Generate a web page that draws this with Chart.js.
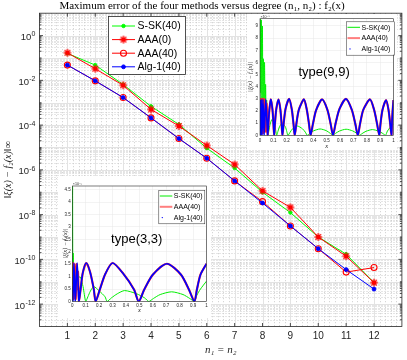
<!DOCTYPE html>
<html>
<head>
<meta charset="utf-8">
<script src="https://cdn.jsdelivr.net/npm/chart.js@4/dist/chart.umd.min.js"></script>
<style>
  html, body { margin: 0; padding: 0; background: #fff; }
  #wrap { position: relative; width: 407px; height: 360px; }
  canvas { position: absolute; display: block; }
  #main { left: 0; top: 0; width: 407px; height: 360px; }
  #inset99 { left: 247px; top: 14px; width: 150px; height: 136px; background: #fff; }
  #inset33 { left: 58px; top: 176px; width: 153px; height: 142px; background: #fff; }
</style>
</head>
<body>
<div id="wrap">
  <canvas id="main" width="407" height="360"></canvas>
  <canvas id="inset99" width="150" height="136"></canvas>
  <canvas id="inset33" width="153" height="142"></canvas>
</div>
<script>
// main plot: max error vs degree
const degrees = [1, 2, 3, 4, 5, 6, 7, 8, 9, 10, 11, 12];
const sskErr = [0.16, 0.048, 6.5e-3, 6.9e-4, 1.07e-4, 9.3e-6, 1.2e-6, 1.0e-7, 1.23e-8, 1.0e-9, 1.7e-10, 9.1e-12];
const aaa0Err = [0.17, 0.033, 6.0e-3, 5.0e-4, 9.1e-5, 1.23e-5, 1.74e-6, 1.15e-7, 2.1e-8, 1.0e-9, 1.38e-10, 9.1e-12];
const aaa40Err = [0.048, 9.5e-3, 1.7e-3, 2.1e-4, 2.5e-5, 3.3e-6, 3.2e-7, 3.8e-8, 3.1e-9, 3.0e-10, 2.7e-11, 4.3e-11];
const alg1Err = [0.048, 9.5e-3, 1.7e-3, 2.1e-4, 2.5e-5, 3.3e-6, 3.2e-7, 3.3e-8, 3.1e-9, 3.0e-10, 3.5e-11, 4.7e-12];
const yTicks = [1, 1e-2, 1e-4, 1e-6, 1e-8, 1e-10, 1e-12];

// inset x ticks
const insetXTicks = [0, 0.1, 0.2, 0.3, 0.4, 0.5, 0.6, 0.7, 0.8, 0.9, 1];

// inset type(9,9), values x 1e-9
const t99YTicks = [0, 1, 2, 3, 4, 5, 6, 7, 8, 9];
const t99BlueNearX = [0, 0.004, 0.009, 0.015, 0.022, 0.031, 0.043, 0.058];
const t99BlueNearY = [2.9, 0, 2.95, 0, 2.95, 0, 2.95, 0];
const t99RedNearX = [0, 0.003, 0.006, 0.01, 0.013, 0.017, 0.02, 0.025, 0.028, 0.033, 0.038, 0.044, 0.05, 0.058];
const t99RedNearY = [3.05, 0.3, 2.9, 0.1, 3.0, 0.5, 2.8, 0.2, 3.0, 0.6, 2.9, 0.3, 2.6, 0];
const t99ArcX = [0.063, 0.07, 0.082, 0.094, 0.101, 0.106,
  0.112, 0.122, 0.139, 0.153, 0.162, 0.168,
  0.177, 0.192, 0.218, 0.238, 0.251, 0.26,
  0.272, 0.291, 0.329, 0.35, 0.367, 0.379,
  0.396, 0.42, 0.465, 0.505, 0.53, 0.547,
  0.566, 0.595, 0.644, 0.688, 0.714, 0.733,
  0.749, 0.774, 0.824, 0.855, 0.878, 0.894,
  0.903, 0.918, 0.945, 0.963, 0.976, 0.985,
  0.99, 0.995, 1];
const t99ArcY = [0.9, 2.1, 2.95, 2.05, 0.9, 0,
  0.95, 2.15, 2.95, 2.1, 0.9, 0,
  0.95, 2.2, 3.0, 2.15, 0.95, 0,
  0.9, 2.1, 2.95, 2.15, 0.95, 0,
  0.9, 2.05, 2.95, 2.1, 0.9, 0,
  0.95, 2.15, 3.0, 2.1, 0.95, 0,
  0.9, 2.1, 2.95, 2.1, 0.9, 0,
  0.95, 2.1, 2.9, 2.1, 0.9, 0,
  1.3, 2.2, 2.9];
const t99GreenX = [0, 0.003, 0.006, 0.01, 0.014, 0.018, 0.022, 0.026, 0.03, 0.034, 0.038, 0.042, 0.046, 0.05, 0.055, 0.06,
  0.067, 0.076, 0.09, 0.108, 0.118, 0.125,
  0.134, 0.146, 0.165, 0.189, 0.201, 0.21,
  0.225, 0.245, 0.278, 0.318, 0.34, 0.355,
  0.374, 0.402, 0.45, 0.497, 0.526, 0.545,
  0.565, 0.595, 0.645, 0.695, 0.725, 0.745,
  0.765, 0.794, 0.842, 0.89, 0.92, 0.94,
  0.955, 0.975, 1];
const t99GreenY = [0, 9.55, 3.5, 9.5, 3.0, 9.0, 2.5, 6.3, 1.8, 6.0, 1.5, 4.2, 1.0, 2.9, 0.6, 0,
  0.4, 0.92, 1.3, 0.9, 0.4, 0,
  0.31, 0.7, 1.0, 0.72, 0.3, 0,
  0.24, 0.55, 0.77, 0.54, 0.25, 0,
  0.16, 0.37, 0.52, 0.38, 0.16, 0,
  0.15, 0.35, 0.5, 0.36, 0.16, 0,
  0.14, 0.33, 0.47, 0.34, 0.15, 0,
  0.35, 0.65, 0.9];

// inset type(3,3), values x 1e-3
const t33YTicks = [0, 0.5, 1, 1.5, 2, 2.5, 3, 3.5, 4, 4.5];
const t33BlueNearX = [0, 0.004, 0.012, 0.022, 0.036, 0.05];
const t33BlueNearY = [0.6, 0, 1.55, 0, 1.55, 0];
const t33RedNearX = [0, 0.003, 0.006, 0.009, 0.013, 0.017, 0.021, 0.026, 0.031, 0.036, 0.042, 0.05];
const t33RedNearY = [1.5, 0.2, 1.55, 0.1, 1.5, 0.3, 1.4, 0.1, 1.5, 0.5, 1.2, 0];
const t33ArcX = [0.062, 0.078, 0.104, 0.132, 0.16, 0.174,
  0.205, 0.245, 0.3, 0.38, 0.46, 0.495,
  0.535, 0.6, 0.705, 0.81, 0.87, 0.91,
  0.928, 0.955, 1];
const t33ArcY = [0.5, 1.15, 1.55, 1.2, 0.5, 0,
  0.48, 1.1, 1.55, 1.12, 0.48, 0,
  0.47, 1.08, 1.52, 1.08, 0.47, 0,
  0.47, 1.08, 1.52];
const t33GreenX = [0, 0.002, 0.004, 0.007, 0.01, 0.014, 0.019, 0.022, 0.03, 0.04, 0.06, 0.08, 0.1,
  0.116, 0.135, 0.16, 0.2, 0.244, 0.26,
  0.29, 0.335, 0.39, 0.48, 0.54, 0.57,
  0.604, 0.655, 0.74, 0.825, 0.876, 0.91,
  0.928, 0.955, 1];
const t33GreenY = [0, 4.63, 0.7, 1.95, 0.3, 1.45, 0.4, 1.0, 0.5, 0.95, 0.98, 0.6, 0,
  0.19, 0.42, 0.6, 0.43, 0.19, 0,
  0.14, 0.31, 0.44, 0.31, 0.14, 0,
  0.12, 0.28, 0.39, 0.28, 0.12, 0,
  0.25, 0.5, 0.82];

const pts = (xs, ys) => xs.map((x, i) => ({ x: x, y: ys[i] }));

const SANS = "'Liberation Sans', 'DejaVu Sans', sans-serif";
const SERIF = "'Liberation Serif', 'DejaVu Serif', serif";
const AXIS = "#262626";

// red asterisk-on-dot marker like matlab '-*'
const starMark = (color) => {
  const c = document.createElement("canvas");
  c.width = 10;
  c.height = 10;
  const g = c.getContext("2d");
  g.fillStyle = color;
  g.beginPath();
  g.arc(5, 5, 2.3, 0, 2 * Math.PI);
  g.fill();
  g.strokeStyle = color;
  g.lineWidth = 1.2;
  for (let k = 0; k < 4; k++) {
    const a = (k * Math.PI) / 4;
    g.beginPath();
    g.moveTo(5 - 3.9 * Math.cos(a), 5 - 3.9 * Math.sin(a));
    g.lineTo(5 + 3.9 * Math.cos(a), 5 + 3.9 * Math.sin(a));
    g.stroke();
  }
  return c;
};

const mainDeco = {
  id: "mainDeco",
  beforeDatasetsDraw(chart) {
    const { ctx, chartArea: a, scales: { x, y } } = chart;
    const vline = (px) => { ctx.beginPath(); ctx.moveTo(px, a.top); ctx.lineTo(px, a.bottom); ctx.stroke(); };
    const hline = (py) => { ctx.beginPath(); ctx.moveTo(a.left, py); ctx.lineTo(a.right, py); ctx.stroke(); };
    ctx.save();
    ctx.lineWidth = 1;
    ctx.strokeStyle = "#cdcdcd";
    ctx.setLineDash([1, 2]);
    for (let k = 1; k < 65; k++) {
      if (k % 5) vline(Math.round(x.getPixelForValue(k / 5)) + 0.5);
    }
    for (let e = -13; e < 1; e++) {
      for (let m = 2; m < 10; m++) hline(Math.round(y.getPixelForValue(m * Math.pow(10, e))) + 0.5);
    }
    ctx.setLineDash([]);
    ctx.strokeStyle = "#e3e3e3";
    for (let k = 1; k < 13; k++) vline(Math.round(x.getPixelForValue(k)) + 0.5);
    for (let e = -12; e < 1; e++) hline(Math.round(y.getPixelForValue(Math.pow(10, e))) + 0.5);
    ctx.restore();
  },
  afterDatasetsDraw(chart, args, opts) {
    const { ctx, chartArea: a, scales: { x, y } } = chart;
    ctx.save();
    // inward ticks
    ctx.strokeStyle = AXIS;
    ctx.lineWidth = 0.8;
    ctx.beginPath();
    for (let k = 1; k < 13; k++) {
      const px = x.getPixelForValue(k);
      ctx.moveTo(px, a.bottom); ctx.lineTo(px, a.bottom - 3.5);
      ctx.moveTo(px, a.top); ctx.lineTo(px, a.top + 3.5);
    }
    for (let e = -13; e < 1; e++) {
      for (let m = 1; m < 10; m++) {
        if (e === -13 && m === 1) continue;
        const py = y.getPixelForValue(m * Math.pow(10, e));
        const len = m === 1 && e % 2 === 0 ? 3.5 : 2;
        ctx.moveTo(a.left, py); ctx.lineTo(a.left + len, py);
        ctx.moveTo(a.right, py); ctx.lineTo(a.right - len, py);
      }
    }
    ctx.stroke();
    ctx.strokeRect(a.left, a.top, a.right - a.left, a.bottom - a.top);

    // decade labels 10^k with a raised exponent
    ctx.fillStyle = AXIS;
    ctx.textBaseline = "alphabetic";
    yTicks.forEach((v) => {
      const py = y.getPixelForValue(v);
      const ex = String(Math.round(Math.log10(v)));
      ctx.font = "7px " + SANS;
      const ew = ctx.measureText(ex).width;
      ctx.textAlign = "left";
      ctx.fillText(ex, a.left - 4 - ew, py + 0.8);
      ctx.font = "9.5px " + SANS;
      ctx.textAlign = "right";
      ctx.fillText("10", a.left - 4.3 - ew, py + 4.4);
    });

    // legend box
    const L = opts;
    ctx.fillStyle = "#fff";
    ctx.fillRect(L.x, L.y, L.w, L.h);
    ctx.strokeStyle = AXIS;
    ctx.lineWidth = 0.8;
    ctx.strokeRect(L.x + 0.5, L.y + 0.5, L.w, L.h);
    ctx.font = "10.5px " + SANS;
    ctx.textBaseline = "middle";
    ctx.textAlign = "left";
    chart.data.datasets.forEach((ds, i) => {
      const ly = L.y + 10 + i * 13.6;
      ctx.strokeStyle = ds.borderColor;
      ctx.lineWidth = 1;
      ctx.beginPath();
      ctx.moveTo(L.x + 4, ly);
      ctx.lineTo(L.x + 27, ly);
      ctx.stroke();
      ctx.fillStyle = ds.pointBackgroundColor;
      ctx.strokeStyle = ds.borderColor;
      ctx.lineWidth = ds.pointBorderWidth;
      Chart.helpers.drawPoint(ctx, { pointStyle: ds.pointStyle, rotation: 0, radius: ds.pointRadius, borderWidth: ds.pointBorderWidth }, L.x + 15.5, ly);
      ctx.fillStyle = "#000";
      ctx.fillText(ds.label, L.x + 29.5, ly + 0.5);
    });
    ctx.restore();
  }
};

new Chart(document.getElementById("main"), {
  type: "line",
  data: {
    datasets: [
      {
        label: "S-SK(40)", data: pts(degrees, sskErr), order: 4,
        borderColor: "#00ff00", borderWidth: 1,
        pointStyle: "circle", pointRadius: 1.7, pointBorderWidth: 1, pointBackgroundColor: "#00ff00"
      },
      {
        label: "AAA(0)", data: pts(degrees, aaa0Err), order: 3,
        borderColor: "#ff0000", borderWidth: 1,
        pointStyle: starMark("#ff0000"), pointRadius: 3, pointBorderWidth: 1, pointBackgroundColor: "#ff0000"
      },
      {
        label: "AAA(40)", data: pts(degrees, aaa40Err), order: 2,
        borderColor: "#ff0000", borderWidth: 1,
        pointStyle: "circle", pointRadius: 3, pointBorderWidth: 1.1, pointBackgroundColor: "rgba(0,0,0,0)"
      },
      {
        label: "Alg-1(40)", data: pts(degrees, alg1Err), order: 1,
        borderColor: "#0000ff", borderWidth: 1,
        pointStyle: "circle", pointRadius: 1.9, pointBorderWidth: 1, pointBackgroundColor: "#0000ff"
      }
    ]
  },
  options: {
    responsive: false,
    animation: false,
    devicePixelRatio: 1,
    layout: { padding: { right: 3 } },
    elements: { line: { tension: 0 } },
    plugins: {
      legend: { display: false },
      tooltip: { enabled: false },
      title: {
        display: true,
        text: "Maximum error of the four methods versus degree (n₁, n₂) : f₂(x)",
        font: { family: SERIF, size: 11, weight: "normal" },
        color: "#000",
        padding: { top: 0, bottom: 0 }
      },
      mainDeco: { x: 108, y: 16, w: 77, h: 58 }
    },
    scales: {
      x: {
        type: "linear", min: 0, max: 13,
        afterBuildTicks: (s) => { s.ticks = degrees.map((v) => ({ value: v })); },
        afterFit: (s) => { s.height = 33.5; },
        grid: { display: false, drawTicks: false },
        border: { display: false },
        ticks: { font: { family: SANS, size: 10 }, color: AXIS, padding: 4, autoSkip: false, maxRotation: 0 },
        title: {
          display: true, text: "n₁ = n₂", color: AXIS,
          font: { family: SERIF, size: 11, style: "italic" },
          padding: { top: 0, bottom: 3.4 }
        }
      },
      y: {
        type: "logarithmic", min: 1e-13, max: 10,
        afterBuildTicks: (s) => { s.ticks = yTicks.map((v) => ({ value: v })); },
        afterFit: (s) => { s.width = 39.5; },
        grid: { display: false, drawTicks: false },
        border: { display: false },
        ticks: { display: false },
        title: {
          display: true, text: "‖ξ(x) − f₂(x)‖∞", color: AXIS,
          font: { family: SERIF, size: 10, style: "italic" },
          padding: { top: 2, bottom: 0 }
        }
      }
    }
  },
  plugins: [mainDeco]
});

// inset decorations: axes box, exponent, big label, legend
const insetDeco = {
  id: "insetDeco",
  afterDatasetsDraw(chart, args, o) {
    const { ctx, chartArea: a } = chart;
    ctx.save();
    ctx.strokeStyle = AXIS;
    ctx.lineWidth = 0.6;
    ctx.strokeRect(a.left, a.top, a.right - a.left, a.bottom - a.top);

    ctx.fillStyle = AXIS;
    ctx.font = "3.6px " + SANS;
    ctx.textAlign = "left";
    ctx.textBaseline = "bottom";
    ctx.fillText(o.exp, a.left + 0.5, a.top - 0.3);

    ctx.fillStyle = "#000";
    ctx.font = "13px " + SANS;
    ctx.textAlign = "center";
    ctx.textBaseline = "middle";
    ctx.fillText(o.tag, a.left + (a.right - a.left) * 0.48, a.top + (a.bottom - a.top) * 0.46);

    const L = o.box;
    ctx.fillStyle = "#fff";
    ctx.fillRect(L.x, L.y, L.w, L.h);
    ctx.strokeStyle = AXIS;
    ctx.lineWidth = 0.5;
    ctx.strokeRect(L.x + 0.5, L.y + 0.5, L.w, L.h);
    ctx.font = "7px " + SANS;
    ctx.textAlign = "left";
    chart.data.datasets.forEach((ds, i) => {
      const ly = L.y + 6 + i * 10.8;
      if (i === 2) {
        ctx.fillStyle = ds.borderColor;
        ctx.beginPath();
        ctx.arc(L.x + 4, ly, 0.7, 0, 2 * Math.PI);
        ctx.fill();
      } else {
        ctx.strokeStyle = ds.borderColor;
        ctx.globalAlpha = i === 1 ? 0.6 : 1;
        ctx.lineWidth = i === 1 ? 2 : 1;
        ctx.beginPath();
        ctx.moveTo(L.x + 1.5, ly);
        ctx.lineTo(L.x + 14, ly);
        ctx.stroke();
        ctx.globalAlpha = 1;
      }
      ctx.fillStyle = "#000";
      ctx.fillText(ds.label, L.x + 15.5, ly + 0.3);
    });
    ctx.restore();
  }
};

const drawInset = (id, c) => new Chart(document.getElementById(id), {
  type: "line",
  data: {
    datasets: [
      { label: "S-SK(40)", data: c.green, borderColor: "#00ee00", borderWidth: 1, order: 3 },
      { label: "AAA(40)", data: c.red, borderColor: "#ff2a2a", borderWidth: 2.2, order: 2 },
      { label: "Alg-1(40)", data: c.blue, borderColor: "#0000ff", borderWidth: 1.7, order: 1 }
    ]
  },
  options: {
    responsive: false,
    animation: false,
    devicePixelRatio: 1,
    layout: { padding: { top: c.padTop, right: c.padRight } },
    elements: { point: { radius: 0 }, line: { tension: 0.25, borderJoinStyle: "round" } },
    plugins: {
      legend: { display: false },
      tooltip: { enabled: false },
      insetDeco: { exp: c.exp, tag: c.tag, box: c.box }
    },
    scales: {
      x: {
        type: "linear", min: 0, max: 1,
        afterBuildTicks: (s) => { s.ticks = insetXTicks.map((v) => ({ value: v })); },
        afterFit: (s) => { s.height = c.xH; },
        grid: { color: "#e6e6e6", lineWidth: 0.5, drawTicks: false },
        border: { display: false },
        ticks: { font: { family: SANS, size: 4.5 }, color: AXIS, padding: c.xPad, autoSkip: false, maxRotation: 0, callback: (v) => String(v) },
        title: { display: true, text: "x", color: AXIS, font: { family: SERIF, size: 6.5, style: "italic" }, padding: { top: 0, bottom: c.xTitlePad } }
      },
      y: {
        type: "linear", min: 0, max: c.yMax,
        afterBuildTicks: (s) => { s.ticks = c.yTicks.map((v) => ({ value: v })); },
        afterFit: (s) => { s.width = c.yW; },
        grid: { color: "#e6e6e6", lineWidth: 0.5, drawTicks: false },
        border: { display: false },
        ticks: { font: { family: SANS, size: 4.5 }, color: AXIS, padding: c.yPad, autoSkip: false, callback: (v) => String(v) },
        title: { display: true, text: "|ξ(x) − f₂(x)|", color: AXIS, font: { family: SERIF, size: 6, style: "italic" }, padding: { top: c.yTitlePad, bottom: 0 } }
      }
    }
  },
  plugins: [insetDeco]
});

drawInset("inset99", {
  green: pts(t99GreenX, t99GreenY),
  red: pts(t99RedNearX, t99RedNearY).concat(pts(t99ArcX, t99ArcY)),
  blue: pts(t99BlueNearX, t99BlueNearY).concat(pts(t99ArcX, t99ArcY)),
  yMax: 9.6, yTicks: t99YTicks,
  exp: "×10⁻⁹", tag: "type(9,9)",
  padTop: 3, padRight: 2.5, yW: 13, xH: 14.7,
  xPad: 2.3, yPad: 2, xTitlePad: 0, yTitlePad: 0,
  box: { x: 99, y: 7.3, w: 48, h: 33.4 }
});

drawInset("inset33", {
  green: pts(t33GreenX, t33GreenY),
  red: pts(t33RedNearX, t33RedNearY).concat(pts(t33ArcX, t33ArcY)),
  blue: pts(t33BlueNearX, t33BlueNearY).concat(pts(t33ArcX, t33ArcY)),
  yMax: 4.65, yTicks: t33YTicks,
  exp: "×10⁻³", tag: "type(3,3)",
  padTop: 10, padRight: 4.5, yW: 14.3, xH: 16.5,
  xPad: 1.2, yPad: 1.6, xTitlePad: 3.6, yTitlePad: 3.4,
  box: { x: 100.3, y: 14, w: 46, h: 33.3 }
});
</script>
</body>
</html>
